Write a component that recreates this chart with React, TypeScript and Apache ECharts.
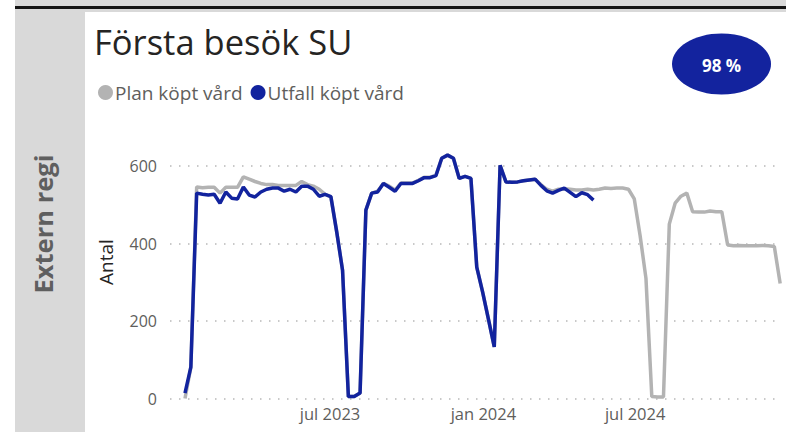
import React, { useEffect, useRef } from "react";
import * as echarts from "echarts";

const title = "Första besök SU";
const sideLabel = "Extern regi";
const badgeText = "98 %";
const yAxisTitle = "Antal";
const seriesNames = ["Plan köpt vård", "Utfall köpt vård"];
const firstWeek = "2023-01-08";
const xLabelDates = ["2023-07-01", "2024-01-01", "2024-07-01"];
const monthNames = ["jan", "feb", "mar", "apr", "maj", "jun", "jul", "aug", "sep", "okt", "nov", "dec"];
const yTicks = [0, 200, 400, 600];

const planValues = [
  0, 80, 546, 544, 545, 545, 530, 545, 545, 545,
  572, 566, 560, 555, 552, 552, 550, 550, 550, 550,
  560, 552, 548, 540, 527, 520, 430, 331, 5, 5,
  14, 486, 530, 535, 555, 548, 538, 556, 556, 556,
  563, 571, 571, 576, 620, 628, 620, 568, 573, 568,
  339, 275, 205, 133, 602, 559, 558, 559, 562, 564,
  566, 552, 540, 535, 540, 541, 540, 538, 538, 540,
  538, 540, 543, 542, 543, 543, 540, 515, 420, 310,
  5, 4, 4, 450, 504, 522, 530, 482, 481, 481,
  484, 482, 482, 396, 394, 395, 394, 394, 394, 395,
  394, 392, 297,
];

const actualValues = [
  14, 81, 530, 527, 525, 527, 504, 533, 517, 515,
  546, 525, 520, 533, 540, 543, 543, 535, 540, 533,
  548, 548, 540, 522, 527, 521, 430, 331, 5, 5,
  14, 486, 530, 533, 555, 545, 535, 555, 555, 555,
  562, 570, 570, 575, 620, 628, 620, 568, 573, 568,
  339, 275, 205, 133, 602, 559, 558, 559, 562, 564,
  566, 550, 536, 530, 537, 543, 532, 521, 531, 526,
  512,
];

const DAY = 86400000;
const weekTs = (i: number) => Date.parse(firstWeek + "T00:00:00Z") + i * 7 * DAY;

export default function App() {
  const ref = useRef<HTMLDivElement>(null);
  useEffect(() => {
    if (!ref.current) return;
    const chart = echarts.init(ref.current, null, { renderer: "svg" });
    const font = "'Open Sans', 'Noto Sans', sans-serif";
    const planData = planValues.map((v, i) => [weekTs(i), v]);
    const actualData = actualValues.map((v, i) => [weekTs(i), v]);
    const labelTs = xLabelDates.map((d) => Date.parse(d + "T00:00:00Z"));
    chart.setOption({
      animation: false,
      backgroundColor: "#ffffff",
      textStyle: { fontFamily: font },
      grid: { left: 170, right: 5, top: 166, bottom: 33.5 },
      legend: {
        left: 93,
        top: 78,
        icon: "circle",
        itemWidth: 15,
        itemHeight: 15,
        itemGap: 8,
        data: seriesNames,
        textStyle: { fontSize: 19, color: "#605E5C", fontFamily: font, padding: [0, 0, 0, -3] },
      },
      xAxis: {
        type: "value",
        min: Date.parse("2022-12-21T00:00:00Z"),
        max: Date.parse("2024-12-23T00:00:00Z"),
        axisLine: { show: false },
        axisTick: { show: false },
        splitLine: { show: false },
        axisLabel: {
          customValues: labelTs,
          showMinLabel: true,
          showMaxLabel: true,
          color: "#605E5C",
          fontSize: 16.5,
          margin: 6,
          fontFamily: font,
          formatter: (val: number) => {
            const d = new Date(val + 12 * 3600000);
            return monthNames[d.getUTCMonth()] + " " + d.getUTCFullYear();
          },
        },
      },
      yAxis: {
        type: "value",
        min: yTicks[0],
        max: yTicks[yTicks.length - 1],
        interval: 200,
        axisLine: { show: false },
        axisTick: { show: false },
        axisLabel: { color: "#605E5C", fontSize: 16, margin: 13, fontFamily: font },
        splitLine: { lineStyle: { color: "#b8b8b8", width: 1.5, type: [1.5, 7.5] } },
      },
      series: [
        {
          name: seriesNames[0],
          type: "line",
          data: planData,
          showSymbol: false,
          symbol: "none",
          clip: false,
          lineStyle: { color: "#B3B3B3", width: 3.5 },
          itemStyle: { color: "#B3B3B3" },
        },
        {
          name: seriesNames[1],
          type: "line",
          data: actualData,
          showSymbol: false,
          symbol: "none",
          clip: false,
          lineStyle: { color: "#12239E", width: 3.5 },
          itemStyle: { color: "#12239E" },
        },
      ],
      graphic: [
        { type: "rect", shape: { x: 15, y: 0, width: 771, height: 12 }, style: { fill: "#d9d9d9" }, z: 0 },
        { type: "rect", shape: { x: 15, y: 6, width: 771, height: 3 }, style: { fill: "#141414" }, z: 1 },
        { type: "rect", shape: { x: 15, y: 9, width: 70, height: 423 }, style: { fill: "#d9d9d9" }, z: 0 },
        {
          type: "text",
          x: 43,
          y: 224,
          rotation: Math.PI / 2,
          style: {
            text: sideLabel,
            fill: "#5f5f5f",
            font: "bold 25.5px " + font,
            align: "center",
            verticalAlign: "middle",
          },
          z: 2,
        },
        {
          type: "text",
          x: 106,
          y: 262,
          rotation: Math.PI / 2,
          style: {
            text: yAxisTitle,
            fill: "#252423",
            font: "19px " + font,
            align: "center",
            verticalAlign: "middle",
          },
          z: 2,
        },
        {
          type: "text",
          x: 94,
          y: 41,
          style: {
            text: title,
            fill: "#252423",
            font: "34.5px " + font,
            align: "left",
            verticalAlign: "middle",
          },
          z: 2,
        },
        {
          type: "ellipse",
          shape: { cx: 721.5, cy: 64, rx: 49.5, ry: 30.5 },
          style: { fill: "#13239E" },
          z: 2,
        },
        {
          type: "text",
          x: 721.5,
          y: 65,
          style: {
            text: badgeText,
            fill: "#ffffff",
            font: "bold 17px " + font,
            align: "center",
            verticalAlign: "middle",
          },
          z: 3,
        },
      ],
    });
    return () => chart.dispose();
  }, []);
  return (
    <div
      ref={ref}
      style={{ position: "fixed", left: 0, top: 0, width: 786, height: 432 }}
    />
  );
}
